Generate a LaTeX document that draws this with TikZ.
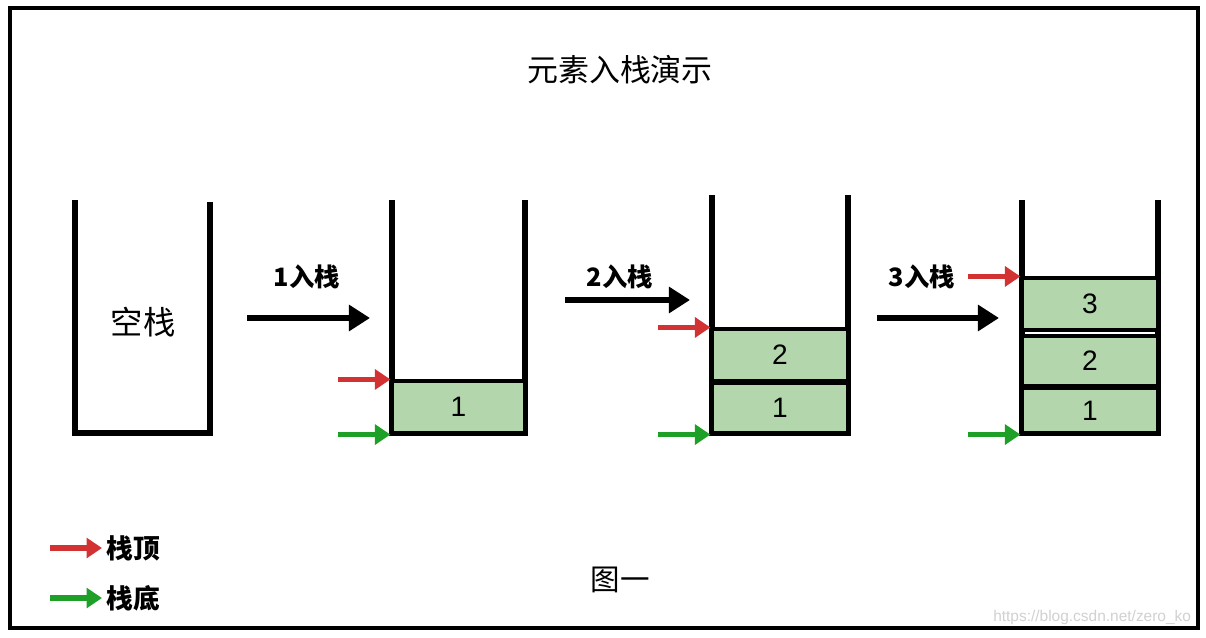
\documentclass[tikz,border=0pt]{standalone}
\usepackage{fontspec}
\setmainfont{Liberation Sans}
\newfontfamily\cjk{Noto Sans CJK SC}
\usetikzlibrary{arrows.meta,positioning}
\definecolor{cellgreen}{RGB}{180,214,172}
\definecolor{topred}{RGB}{210,50,50}
\definecolor{bottomgreen}{RGB}{30,160,40}

\begin{document}
\begin{tikzpicture}[x=0.025cm,y=-0.025cm]
	% Styles for walls, cells and arrows
	\tikzset{
		wall/.style={line width=3.6pt, line cap=rect},
		cell/.style={draw, line width=2.2pt, fill=cellgreen, inner sep=0pt,
			font=\fontsize{20}{20}\selectfont},
		push arrow/.style={line width=4.2pt, -{Triangle[length=15pt,width=18pt]}},
		top arrow/.style={draw=topred, line width=3.6pt, -{Triangle[length=11pt,width=14pt]}},
		bottom arrow/.style={draw=bottomgreen, line width=3.6pt, -{Triangle[length=11pt,width=14pt]}},
		cjklabel/.style={font=\cjk\bfseries\fontsize{18}{18}\selectfont}
	}
	\useasboundingbox (0,0) rectangle (1206,638);
	\fill[white] (0,0) rectangle (1206,638);
	
	% outer frame
	\draw[line width=2.4pt] (10,8) rectangle (1198,628);
	
	% title
	\node[font=\cjk\fontsize{22}{22}\selectfont] (title) at (620,70) {元素入栈演示};
	
	% empty stack
	\draw[wall] (75,203) -- (75,433) -- (210,433) -- (210,205);
	\node[font=\cjk\fontsize{23}{23}\selectfont] (empty) at (143,322) {空栈};
	
	% push 1
	\coordinate (p1s) at (247,318);
	\coordinate (p1e) at (370,318);
	\draw[push arrow] (p1s) -- (p1e);
	\node[cjklabel] (p1) at (307,277) {1入栈};
	
	% stack with one element
	\draw[wall] (392,203) -- (392,433) -- (525,433) -- (525,203);
	\node[cell, minimum width=3.325cm, minimum height=1.3cm] (sa1) at (458.5,407) {1};
	\coordinate[left=1.3cm of sa1.north west] (ta);
	\coordinate[left=1.3cm of sa1.south west] (ba);
	\draw[top arrow] (ta) -- (sa1.north west);
	\draw[bottom arrow] (ba) -- (sa1.south west);
	
	% push 2
	\coordinate (p2s) at (565,300);
	\coordinate (p2e) at (690,300);
	\draw[push arrow] (p2s) -- (p2e);
	\node[cjklabel] (p2) at (620,277) {2入栈};
	
	% stack with two elements
	\draw[wall] (712,198) -- (712,433) -- (848,433) -- (848,198);
	\node[cell, minimum width=3.4cm, minimum height=1.25cm] (sb1) at (780,408) {1};
	\node[cell, minimum width=3.4cm, minimum height=1.3cm] (sb2) at (780,355) {2};
	\coordinate[left=1.3cm of sb2.north west] (tb);
	\coordinate[left=1.3cm of sb1.south west] (bb);
	\draw[top arrow] (tb) -- (sb2.north west);
	\draw[bottom arrow] (bb) -- (sb1.south west);
	
	% push 3
	\coordinate (p3s) at (877,318);
	\coordinate (p3e) at (999,318);
	\draw[push arrow] (p3s) -- (p3e);
	\node[cjklabel] (p3) at (922,277) {3入栈};
	
	% stack with three elements
	\draw[wall] (1022,203) -- (1022,433) -- (1158,433) -- (1158,203);
	\node[cell, minimum width=3.4cm, minimum height=1.125cm] (sc1) at (1090,410.5) {1};
	\node[cell, minimum width=3.4cm, minimum height=1.25cm] (sc2) at (1090,361) {2};
	\node[cell, minimum width=3.4cm, minimum height=1.3cm] (sc3) at (1090,304) {3};
	\coordinate[left=1.3cm of sc3.north west] (tc);
	\coordinate[left=1.3cm of sc1.south west] (bc);
	\draw[top arrow] (tc) -- (sc3.north west);
	\draw[bottom arrow] (bc) -- (sc1.south west);
	
	% legend
	\coordinate (lt) at (50,548);
	\coordinate (lte) at (102,548);
	\coordinate (lb) at (50,598);
	\coordinate (lbe) at (102,598);
	\draw[top arrow] (lt) -- (lte);
	\draw[bottom arrow] (lb) -- (lbe);
	\node[cjklabel, font=\cjk\bfseries\fontsize{19}{19}\selectfont, anchor=west] (ltop) at (lte) {栈顶};
	\node[cjklabel, font=\cjk\bfseries\fontsize{19}{19}\selectfont, anchor=west] (lbot) at (lbe) {栈底};
	
	% caption and watermark
	\node[font=\cjk\fontsize{21}{21}\selectfont] (cap) at (620,580) {图一};
	\node[anchor=east, text=black!18, font=\fontsize{11}{11}\selectfont] (mark) at (1196,617) {https://blog.csdn.net/zero\_ko};
\end{tikzpicture}
\end{document}
